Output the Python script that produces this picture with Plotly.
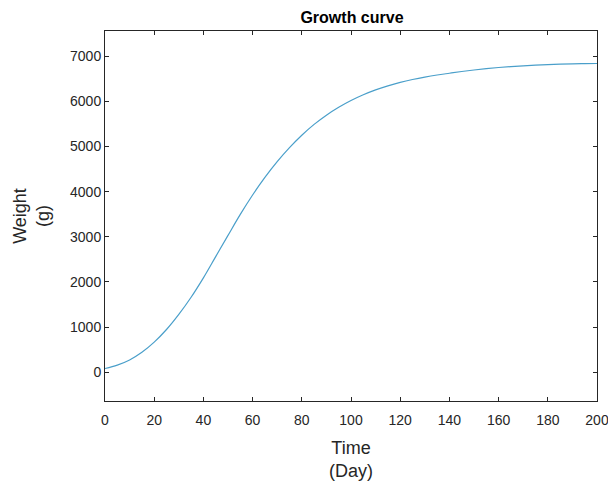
import plotly.graph_objects as go

days = [0, 5, 10, 15, 20, 25, 30, 35, 40, 45, 50, 55, 60, 65, 70, 75, 80, 85, 90, 95, 100,
        105, 110, 115, 120, 125, 130, 135, 140, 145, 150, 155, 160, 165, 170, 175, 180, 185, 190, 195, 200]
weight = [80, 155, 270, 440, 665, 945, 1280, 1660, 2090, 2560, 3030, 3495, 3925, 4315, 4665, 4975, 5250, 5490, 5695, 5870, 6020,
          6147, 6255, 6345, 6421, 6485, 6539, 6585, 6624, 6662, 6696, 6726, 6751, 6772, 6789, 6803, 6815, 6824, 6831, 6836, 6840]
x_ticks = list(range(0, 201, 20))
y_ticks = list(range(0, 7001, 1000))

font_family = "Liberation Sans, Arial, sans-serif"
axis_color = "#262626"

fig = go.Figure()
fig.add_trace(go.Scatter(
    x=days, y=weight, mode="lines",
    line=dict(color="#4a9fca", width=1.2, shape="spline", smoothing=1.0),
    showlegend=False,
))

fig.update_layout(
    width=608, height=483,
    margin=dict(l=105, r=11, t=31, b=82, autoexpand=False),
    paper_bgcolor="white", plot_bgcolor="white",
    font=dict(family=font_family, color=axis_color, size=14),
    title=dict(text="<b>Growth curve</b>", x=352 / 608, xanchor="center",
               y=1 - 17 / 483, yanchor="middle", font=dict(size=16, color="#000000")),
)
fig.update_xaxes(
    range=[0, 200], tickmode="array", tickvals=x_ticks, ticktext=[str(v) for v in x_ticks],
    showgrid=False, zeroline=False, showline=True, linecolor=axis_color, linewidth=1,
    mirror="ticks", ticks="inside", ticklen=4, tickcolor=axis_color, automargin=False,
    ticklabeloverflow="allow", ticklabelstandoff=6,
    tickfont=dict(size=14, color=axis_color),
    title=dict(text="Time<br>(Day)", font=dict(size=18, color=axis_color), standoff=14),
)
fig.update_yaxes(
    range=[-640, 7560], tickmode="array", tickvals=y_ticks, ticktext=[str(v) for v in y_ticks],
    showgrid=False, zeroline=False, showline=True, linecolor=axis_color, linewidth=1,
    mirror="ticks", ticks="inside", ticklen=4, tickcolor=axis_color, automargin=False,
    ticklabeloverflow="allow",
    tickfont=dict(size=14, color=axis_color),
    title=dict(text="Weight<br>(g)", font=dict(size=18, color=axis_color), standoff=15),
)

fig.write_html("out.html")
